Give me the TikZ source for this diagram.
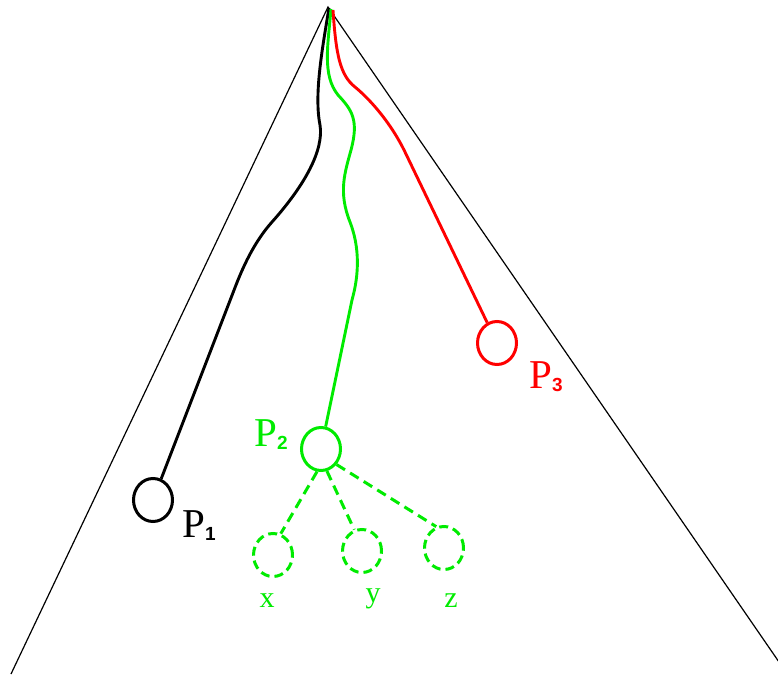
\documentclass[tikz,border=0pt]{standalone}
\usepackage{fontspec}
\setmainfont{Liberation Serif}
\setsansfont{Liberation Sans}
\usetikzlibrary{shapes.geometric}
\definecolor{pgreen}{RGB}{0,235,0}
\definecolor{pred}{RGB}{255,0,0}
\tikzset{
  frame/.style={line width=1.2pt, black},
  pathline/.style={line width=2.9pt},
  pcirc/.style={draw, ellipse, line width=3pt, minimum width=39pt, minimum height=43pt, inner sep=0pt},
  dcirc/.style={pcirc, dash pattern=on 9pt off 5pt},
  dline/.style={line width=3pt, pgreen, dash pattern=on 10pt off 6pt},
  plabel/.style={anchor=base west, inner sep=0pt, font=\fontsize{41}{41}\selectfont},
  vlabel/.style={inner sep=0pt, pgreen, font=\fontsize{30}{30}\selectfont}
}
\newcommand{\subdig}[1]{\raisebox{-3pt}{\fontsize{19}{19}\selectfont\sffamily\bfseries #1}}
\begin{document}
\begin{tikzpicture}[x=1pt,y=-1pt]
\useasboundingbox (0,0) rectangle (778,674);
% triangle
\coordinate (apex) at (328,7);
\coordinate (bl) at (11,674);
\coordinate (br) at (779,662);
\draw[frame] (bl) -- (apex) -- (br);
% circles
\node[pcirc, black] (p1) at (153,500) {};
\node[pcirc, pgreen] (p2) at (321,449) {};
\node[pcirc, pred] (p3) at (497,343) {};
\node[dcirc, pgreen] (x) at (273,555) {};
\node[dcirc, pgreen] (y) at (362,551) {};
\node[dcirc, pgreen] (z) at (444,548) {};
% labels
\node[plabel, black] (l1) at (182,537) {P\subdig{1}};
\node[plabel, pgreen] (l2) at (254,446) {P\subdig{2}};
\node[plabel, pred] (l3) at (529,388) {P\subdig{3}};
\node[vlabel] (lx) at (267,601) {x};
\node[vlabel] (ly) at (373,599) {y};
\node[vlabel] (lz) at (451,601) {z};
% start points of paths
\coordinate (sb) at (329,8);
\coordinate (sg) at (331,9);
\coordinate (sr) at (333,10);
% black path
\draw[pathline, black] (sb) .. controls (322,50) and (314,95) .. (320,125)
  .. controls (324,150) and (305,185) .. (272,222)
  .. controls (256,240) and (245,262) .. (236,285) -- (p1);
% green path
\draw[pathline, pgreen] (sg) .. controls (328,45) and (322,75) .. (338,95)
  .. controls (352,110) and (359,120) .. (351,150)
  .. controls (345,172) and (338,192) .. (350,222)
  .. controls (360,248) and (359,275) .. (352,300) -- (p2);
% red path
\draw[pathline, pred] (sr) .. controls (336,55) and (340,75) .. (355,87)
  .. controls (372,101) and (392,125) .. (405,152) -- (p3);
% dashed children
\draw[dline] (p2.-100) -- (x.70);
\draw[dline] (p2.-75) -- (y.110);
\draw[dline] (p2.-45) -- (z.110);
\end{tikzpicture}
\end{document}
